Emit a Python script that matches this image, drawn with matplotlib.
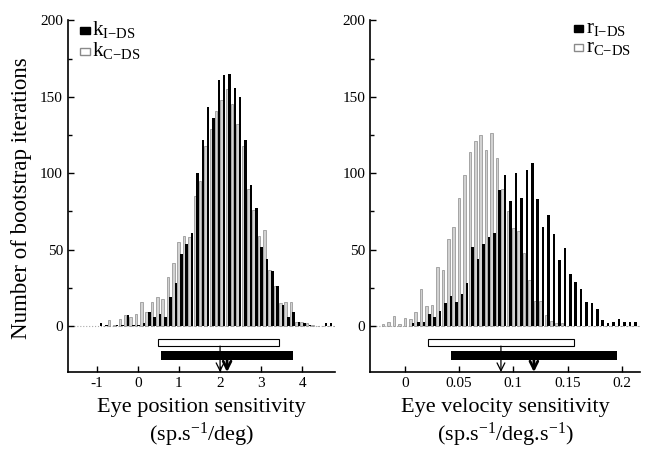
import numpy as np
import matplotlib.pyplot as plt
from matplotlib.patches import Patch

plt.rcParams['font.family'] = 'Liberation Serif'
plt.rcParams['mathtext.fontset'] = 'custom'
plt.rcParams['mathtext.rm'] = 'Liberation Serif'
plt.rcParams['mathtext.it'] = 'Liberation Serif:italic'

# Eye position sensitivity histogram (bins of 0.13, first black bar at -0.89)
pos_start, pos_width = -0.89, 0.13
pos_ids = [2, 1, 0, 1, 1, 7, 1, 1, 2, 9,
           6, 8, 6, 19, 28, 47, 54, 61, 100, 122,
           143, 136, 161, 164, 165, 156, 150, 122, 92, 77,
           52, 44, 36, 26, 14, 6, 9, 3, 2, 1,
           0, 0, 2, 2]
pos_cds = [0, 4, 1, 5, 7, 6, 8, 16, 9, 16,
           19, 18, 32, 41, 55, 59, 58, 85, 95, 118,
           129, 141, 148, 155, 145, 132, 118, 90, 76, 59,
           63, 37, 26, 15, 16, 16, 3, 3, 2, 1,
           0, 0, 0, 0]
pos_ci_ids = (0.56, 3.78)
pos_ci_cds = (0.49, 3.44)
pos_mean_ids = 2.17
pos_mean_cds = 2.0

# Eye velocity sensitivity histogram (bins of 0.005)
vel_start, vel_width = -0.0225, 0.005
vel_ids = [0, 0, 0, 0, 0, 0, 2, 3, 3, 8, 6, 10, 15, 20, 16, 21,
           28, 52, 44, 54, 58, 61, 89, 99, 82, 100,
           84, 102, 107, 83, 65, 73, 60, 43, 51, 34,
           29, 24, 16, 15, 11, 4, 2, 3, 5, 3,
           3, 3]
vel_cds = [1.5, 3, 6.7, 1.5, 5.6, 5, 9, 24, 13, 13.7,
           39, 37, 57, 65, 84, 99, 114, 121, 125, 115,
           126, 110, 90, 75, 64, 62, 48, 30, 16.5, 16.5,
           7, 3.5, 2.4, 2, 0, 0, 0, 0, 0, 0,
           0, 0, 0, 0, 0, 0, 0, 0]
vel_ci_ids = (0.0426, 0.196)
vel_ci_cds = (0.021, 0.156)
vel_mean_ids = 0.119
vel_mean_cds = 0.0886

YMIN = -30
gray_face = '#d2d2d2'
gray_edge = '#8a8a8a'


def panel(ax, start, width, ids, cds, ci_ids, ci_cds, m_ids, m_cds,
          xlim, xticks, xticklabels, xlabel, sym, legend_right):
    x = start + width * np.arange(len(ids))
    bw = width * 0.47
    ax.bar(x, ids, width=bw, color='black', zorder=3)
    ax.bar(x + width * 0.5, cds, width=bw, facecolor=gray_face,
           edgecolor=gray_edge, linewidth=0.5, zorder=2)
    ax.axhline(0, color='#aaaaaa', ls=':', lw=0.8, zorder=1)

    # confidence intervals
    ax.barh(-10.75, ci_cds[1] - ci_cds[0], left=ci_cds[0], height=4.5,
            facecolor='white', edgecolor='black', linewidth=0.8)
    ax.barh(-19.2, ci_ids[1] - ci_ids[0], left=ci_ids[0], height=5.8,
            color='black')
    # means
    ax.annotate('', xy=(m_cds, YMIN), xytext=(m_cds, -13),
                arrowprops=dict(arrowstyle='->', lw=0.9, color='black',
                                mutation_scale=14, shrinkA=0, shrinkB=0))
    ax.annotate('', xy=(m_ids, YMIN), xytext=(m_ids, -22.1),
                arrowprops=dict(arrowstyle='->', lw=2, color='black',
                                mutation_scale=14, shrinkA=0, shrinkB=0))

    ax.set_xlim(*xlim)
    ax.set_ylim(YMIN, 200)
    ax.set_xticks(xticks)
    ax.set_xticklabels(xticklabels)
    ax.set_yticks([0, 50, 100, 150, 200])
    ax.set_yticks([25, 75, 125, 175], minor=True)
    ax.tick_params(direction='in', length=4, width=1, labelsize=11)
    ax.tick_params(which='minor', direction='in', length=3, width=1)
    ax.spines['top'].set_visible(False)
    ax.spines['right'].set_visible(False)
    ax.spines['left'].set_linewidth(1.2)
    ax.spines['bottom'].set_linewidth(1.2)
    ax.set_xlabel(xlabel, fontsize=16, linespacing=1.2, labelpad=6)

    handles = [Patch(facecolor='black', edgecolor='black'),
               Patch(facecolor='white', edgecolor=gray_edge)]
    labels = [r'$\mathrm{%s_{I{-}DS}}$' % sym, r'$\mathrm{%s_{C{-}DS}}$' % sym]
    if legend_right:
        leg = ax.legend(handles, labels, loc='upper right',
                        bbox_to_anchor=(1.0, 1.03))
    else:
        leg = ax.legend(handles, labels, loc='upper left',
                        bbox_to_anchor=(0.01, 1.03))
    for t in leg.get_texts():
        t.set_fontsize(15)
    leg.set_frame_on(False)


fig = plt.figure(figsize=(6.46, 4.51), dpi=100)
ax1 = fig.add_axes([0.105, 0.175, 0.414, 0.78])
ax2 = fig.add_axes([0.573, 0.175, 0.418, 0.78])

plt.rcParams['legend.handlelength'] = 0.7
plt.rcParams['legend.handleheight'] = 0.35
plt.rcParams['legend.handletextpad'] = 0.15
plt.rcParams['legend.labelspacing'] = 0.0
plt.rcParams['legend.borderpad'] = 0.2

panel(ax1, pos_start, pos_width, pos_ids, pos_cds, pos_ci_ids, pos_ci_cds,
      pos_mean_ids, pos_mean_cds, (-1.7, 4.8), [-1, 0, 1, 2, 3, 4],
      ['-1', '0', '1', '2', '3', '4'],
      'Eye position sensitivity\n(sp.s$^{-1}$/deg)', 'k', False)
panel(ax2, vel_start, vel_width, vel_ids, vel_cds, vel_ci_ids, vel_ci_cds,
      vel_mean_ids, vel_mean_cds, (-0.032, 0.217),
      [0, 0.05, 0.1, 0.15, 0.2], ['0', '0.05', '0.1', '0.15', '0.2'],
      'Eye velocity sensitivity\n(sp.s$^{-1}$/deg.s$^{-1}$)', 'r', True)

fig.text(0.033, 0.56, 'Number of bootstrap iterations', rotation=90,
         va='center', ha='center', fontsize=16.5)

fig.savefig('out.png', dpi=100)
